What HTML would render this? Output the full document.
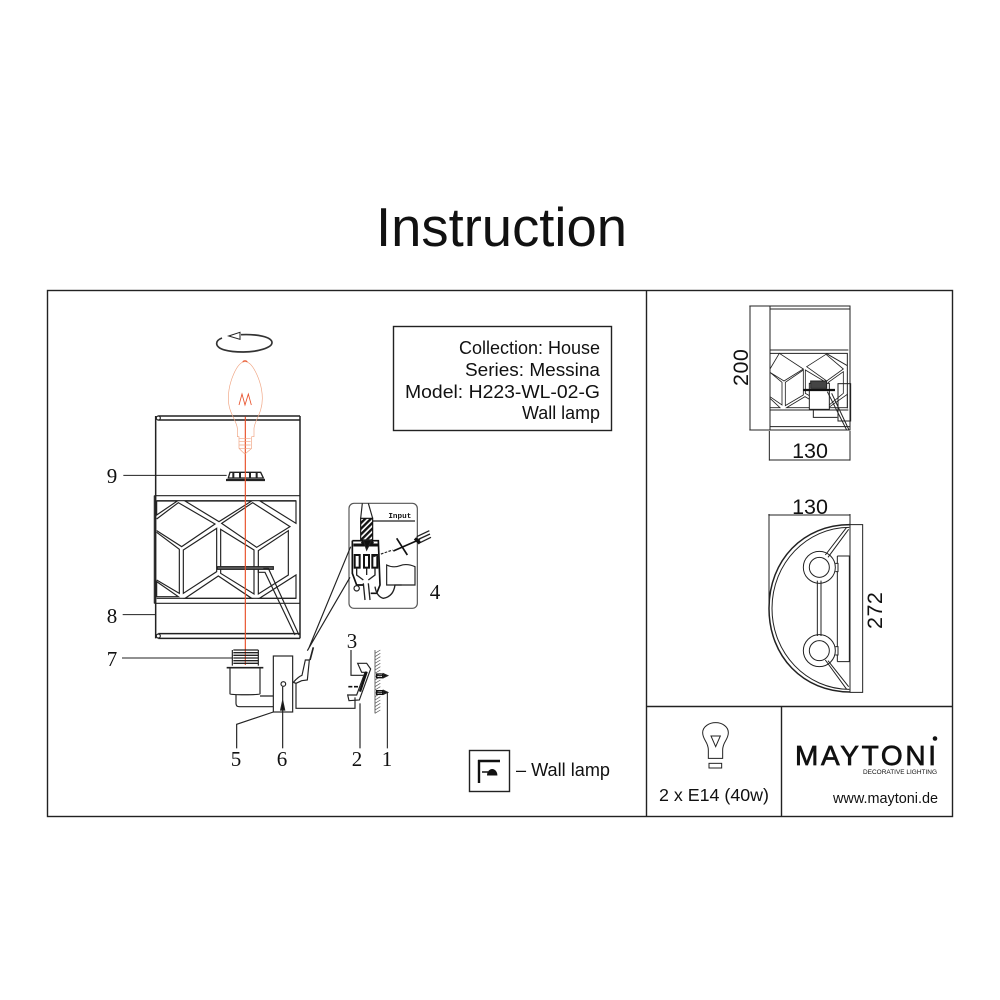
<!DOCTYPE html>
<html><head><meta charset="utf-8"><style>
html,body{margin:0;padding:0;background:#fff}
svg{display:block}
text{font-family:"Liberation Sans",sans-serif;fill:#111}
.s text{font-family:"Liberation Serif",serif;fill:#111}
</style></head><body>
<svg width="1000" height="1000" viewBox="0 0 1000 1000" xmlns="http://www.w3.org/2000/svg">
<defs><pattern id="h" width="12" height="12" patternUnits="userSpaceOnUse" patternTransform="rotate(-45)"><rect width="12" height="7" fill="#111"/></pattern></defs>
<rect width="1000" height="1000" fill="#fff"/>
<text x="376" y="246" font-size="54.5" textLength="251" lengthAdjust="spacingAndGlyphs">Instruction</text>
<g fill="none" stroke="#222" stroke-width="1.4">
<rect x="47.500" y="290.500" width="905" height="526"/>
<path d="M646.500 290V816M646 706.500H952M781.500 706V816"/>
<rect x="393.500" y="326.500" width="218" height="104"/>
<rect x="469.500" y="750.500" width="40" height="41"/>
</g>
<g font-size="18">
<text x="459" y="354" textLength="141" lengthAdjust="spacingAndGlyphs">Collection: House</text>
<text x="465" y="376" textLength="135" lengthAdjust="spacingAndGlyphs">Series: Messina</text>
<text x="405" y="398" textLength="195" lengthAdjust="spacingAndGlyphs">Model: H223-WL-02-G</text>
<text x="522" y="419" textLength="78" lengthAdjust="spacingAndGlyphs">Wall lamp</text>
</g>
<text x="516" y="776" font-size="18" textLength="94" lengthAdjust="spacingAndGlyphs">– Wall lamp</text>
<path d="M478 761H500M479 760V783" stroke="#111" stroke-width="2.400" fill="none"/>
<path d="M482 772H488" stroke="#111" stroke-width="1.500"/>
<path d="M487 775.500a5.200 6.500 0 0 1 10.400 0z" fill="#111"/>

<!-- Lamp shade -->
<g transform="translate(100 320) scale(.33333)" fill="none" stroke="#222" stroke-width="3.500">
<path d="M167 288V955M600 288V955M175 288H600M175 300H600M175 941H600M175 955H600" stroke-width="4.500"/>
<circle cx="175" cy="294" r="6" fill="#fff"/><circle cx="175" cy="948" r="6" fill="#fff"/>
<path d="M163 527H600M163 527V850M163 850H600M170 542H588M170 835H588" stroke-width="3.500"/>
<path d="M170 543H232L170 585ZM255 543H455L357 605ZM480 543H588V610Z"/>
<path d="M170 597L235 548L345 612L245 680L170 632M365 610L458 548L570 620L470 682Z"/>
<path d="M170 637L238 688V820L170 780M250 690L350 625V755L250 820ZM362 628L462 690V822L362 760ZM475 692L565 632V765L475 822Z"/>
<path d="M170 785L235 830H170ZM255 835L355 768L455 835ZM478 835L588 765V835Z"/>
<rect x="352" y="740" width="168" height="8" fill="#666"/>
<path d="M475 750V757H495L585 945M490 745H505L597 945"/>
<path d="M378 480H495" stroke-width="7"/>
<path d="M385 474L390 457H482L490 474Z" fill="#fff" stroke-width="4"/>
<path d="M400 458V473M420 458V473M450 458V473M470 458V473" stroke-width="6"/>
<path d="M70 466H380M68 884H165M66 1014H396" stroke-width="3"/>
<path d="M436 290V1035" stroke="#e8502a" stroke-width="3.500"/>
<path d="M435 125C410 125 385 190 385 235C385 280 410 300 412 325V350H417V385L428 396L435 402L442 396L455 385V350H462V325C464 300 487 280 487 235C487 190 460 125 435 125Z" stroke="#f0a583" stroke-width="2"/>
<path d="M428 125Q435 120 442 125" stroke="#e8502a"/>
<path d="M418 355H452M418 365H452M418 375H452M418 385H452" stroke="#f0a583" stroke-width="2"/>
<path d="M417 255L426 222L435 255L445 222L454 255" stroke="#e8502a" stroke-width="2.500"/>
<path d="M423 44C470 42 516 50 516 68C516 84 470 96 430 96C385 96 350 88 350 70C350 64 356 58 366 54" stroke="#333" stroke-width="5"/>
<path d="M386 48L420 37V58Z" fill="#fff" stroke="#222" stroke-width="3"/>
</g>

<!-- Parts -->
<g transform="translate(200 490) scale(.33333)" fill="none" stroke="#222" stroke-width="3.500">
<rect x="447" y="40" width="205" height="315" rx="15" stroke="#555"/>
<path d="M487 40L482 85M505 40L518 85M518 93H645"/>
<rect x="482" y="85" width="36" height="65" fill="url(#h)" stroke="#111"/>
<path d="M457 152H535L540 285L530 310H512M457 152V250L470 285H490" stroke="#111" stroke-width="5"/>
<path d="M460 165H535M485 155L500 165L520 155" stroke="#111" stroke-width="9"/>
<path d="M490 150L500 180L515 150Z" fill="#111"/>
<rect x="464" y="195" width="15" height="38" stroke="#111" stroke-width="6"/>
<rect x="492" y="195" width="15" height="38" stroke="#111" stroke-width="6"/>
<rect x="517" y="195" width="15" height="38" stroke="#111" stroke-width="6"/>
<path d="M470 233V255L490 270M500 233V255M525 233V255L505 270M490 280L495 330M505 280L510 330M525 290Q530 320 550 325Q580 320 585 285H605" stroke-width="4"/>
<circle cx="470" cy="295" r="8"/>
<path d="M560 225Q580 235 600 227T645 230V285H560Z"/>
<path d="M520 200L578 180" stroke-dasharray="8 4"/>
<path d="M590 145L622 195" stroke="#111" stroke-width="5"/>
<path d="M580 183L660 148" stroke="#111" stroke-width="5"/>
<path d="M650 140L688 122M655 148L690 132M660 158L693 142" stroke="#222" stroke-width="4"/>
<path d="M645 145L660 160" stroke="#111" stroke-width="10"/>
<path d="M452 170L325 478M450 262L322 482"/>
<path d="M340 472L330 510" stroke-width="5"/>
<path d="M316 510H328L322 570L305 572L288 580L280 577Q295 560 306 556Z"/>
<path d="M100 480H175M100 488H175M100 496H175M100 504H175M100 512H175M100 520H175" stroke-width="4"/>
<path d="M97 480V527M175 480V527"/>
<path d="M80 533H190" stroke-width="5"/>
<path d="M90 533V612C90 615 180 615 180 612V533" />
<path d="M108 615V640Q108 650 118 650H220M180 618H220"/>
<rect x="220" y="498" width="58" height="168" fill="#fff"/>
<circle cx="250" cy="582" r="7"/>
<path d="M248 590V775"/>
<path d="M248 632L242 660H254Z" fill="#111"/>
<path d="M220 666L110 703V775"/>
<path d="M288 580V655H465V622"/>
<path d="M473 520H500L512 537L478 630L447 632L443 615H470L495 547H485Z"/>
<path d="M500 545L480 605" stroke="#111" stroke-width="7"/>
<path d="M453 480V556H490"/>
<path d="M445 590H478" stroke="#111" stroke-width="5" stroke-dasharray="12 5"/>
<path d="M525 480V670" stroke-width="2"/>
<path d="M525 490l16 -10M525 500l16 -10M525 510l16 -10M525 520l16 -10M525 530l16 -10M525 540l16 -10M525 550l16 -10M525 560l16 -10M525 570l16 -10M525 580l16 -10M525 590l16 -10M525 600l16 -10M525 610l16 -10M525 620l16 -10M525 630l16 -10M525 640l16 -10M525 650l16 -10M525 660l16 -10M525 670l16 -10" stroke="#555" stroke-width="2"/>
<path d="M530 557H560M530 607H562V775" stroke="#111" stroke-width="3"/>
<path d="M530 552H548V563H530ZM530 602H548V613H530Z" stroke="#111" stroke-width="4"/>
<path d="M550 551L563 557L550 563ZM550 601L563 607L550 613Z" fill="#111"/>
<path d="M480 640V775"/>
<text transform="translate(565 84)" font-size="23" font-weight="bold" stroke="none" style="font-family:'Liberation Mono',monospace">Input</text>
</g>
<g class="s" font-size="21" text-anchor="middle">
<text x="112" y="483">9</text><text x="112" y="623">8</text><text x="112" y="666">7</text>
<text x="435" y="599">4</text><text x="352" y="648">3</text>
<text x="236" y="766">5</text><text x="282" y="766">6</text><text x="357" y="766">2</text><text x="387" y="766">1</text>
</g>

<!-- Side view -->
<g transform="translate(720 295) scale(.33333)" fill="none" stroke="#222" stroke-width="3">
<path d="M88 33H390V405H88M90 33V405M150 33V405M150 42H390M150 395H390"/>
<path d="M150 165H385M150 345H385M150 175H382V212L318 175M382 175V340"/>
<path d="M150 222L178 175L250 222L192 258L150 232M260 215L318 178L370 222L320 258ZM150 232L186 262V330L150 305M196 262L250 225V300L196 332ZM256 225L318 262V330L256 295ZM325 262L370 230V295L325 332ZM150 310L180 338H150ZM200 338L255 305L310 338ZM325 338L382 298V338Z" stroke-width="2.500"/>
<rect x="268" y="265" width="60" height="78" fill="#fff"/>
<path d="M250 285H345" stroke="#111" stroke-width="7"/>
<path d="M272 258H320V280H272Z" fill="#444"/>
<path d="M280 345V367H352M335 295L387 405M322 290L380 405"/>
<rect x="354" y="266" width="38" height="112"/>
<path d="M148 408V497M390 408V497M148 495H390"/>
</g>
<text transform="translate(748 386) rotate(-90)" font-size="21.500" fill="#222" style="letter-spacing:.5px">200</text>
<text x="810" y="458" font-size="21.500" text-anchor="middle">130</text>

<!-- Top view -->
<g transform="translate(750 490) scale(.33333)" fill="none" stroke="#222" stroke-width="3">
<path d="M57 72V340M300 72V608M55 75H300M300 104H338V607H300"/>
<path d="M300 104C160 104 57 210 57 355C57 500 160 606 300 606" stroke-width="4.500"/>
<path d="M298 112C170 112 66 220 66 355C66 490 170 598 298 598"/>
<path d="M290 112L226 195M296 118L234 202M226 510L290 598M234 512L296 590"/>
<circle cx="208" cy="232" r="48"/><circle cx="208" cy="232" r="30"/>
<circle cx="208" cy="482" r="48"/><circle cx="208" cy="482" r="30"/>
<path d="M202 272V438M213 272V438"/>
<path d="M262 198H298V515H262M262 198V220M262 245V470M262 495V515"/>
<path d="M256 220H264V245H256M256 470H264V495H256"/>
</g>
<text x="810" y="514" font-size="21.500" text-anchor="middle">130</text>
<text transform="translate(882 629) rotate(-90)" font-size="21.500" style="letter-spacing:.5px">272</text>

<!-- Bulb -->
<g transform="translate(645 700) scale(.33333)" fill="none" stroke="#222" stroke-width="3">
<path d="M190 175V150C190 125 173 120 173 98C173 80 192 68 212 68C232 68 250 80 250 98C250 120 233 125 233 150V175Z"/>
<path d="M198 108H226L212 140Z"/>
<rect x="192" y="190" width="38" height="14"/>
</g>
<text x="659" y="801" font-size="17.800" textLength="110" lengthAdjust="spacingAndGlyphs">2 x E14 (40w)</text>
<text x="795" y="765" font-size="28" stroke="#111" stroke-width=".7" textLength="141" lengthAdjust="spacing" fill="#111">MAYTONI</text>
<circle cx="935" cy="738.500" r="2.300" fill="#111"/>
<text x="863" y="774" font-size="6" fill="#555" textLength="74" lengthAdjust="spacingAndGlyphs">DECORATIVE LIGHTING</text>
<text x="833" y="803" font-size="14.500" textLength="105" lengthAdjust="spacingAndGlyphs">www.maytoni.de</text>
</svg>
</body></html>
